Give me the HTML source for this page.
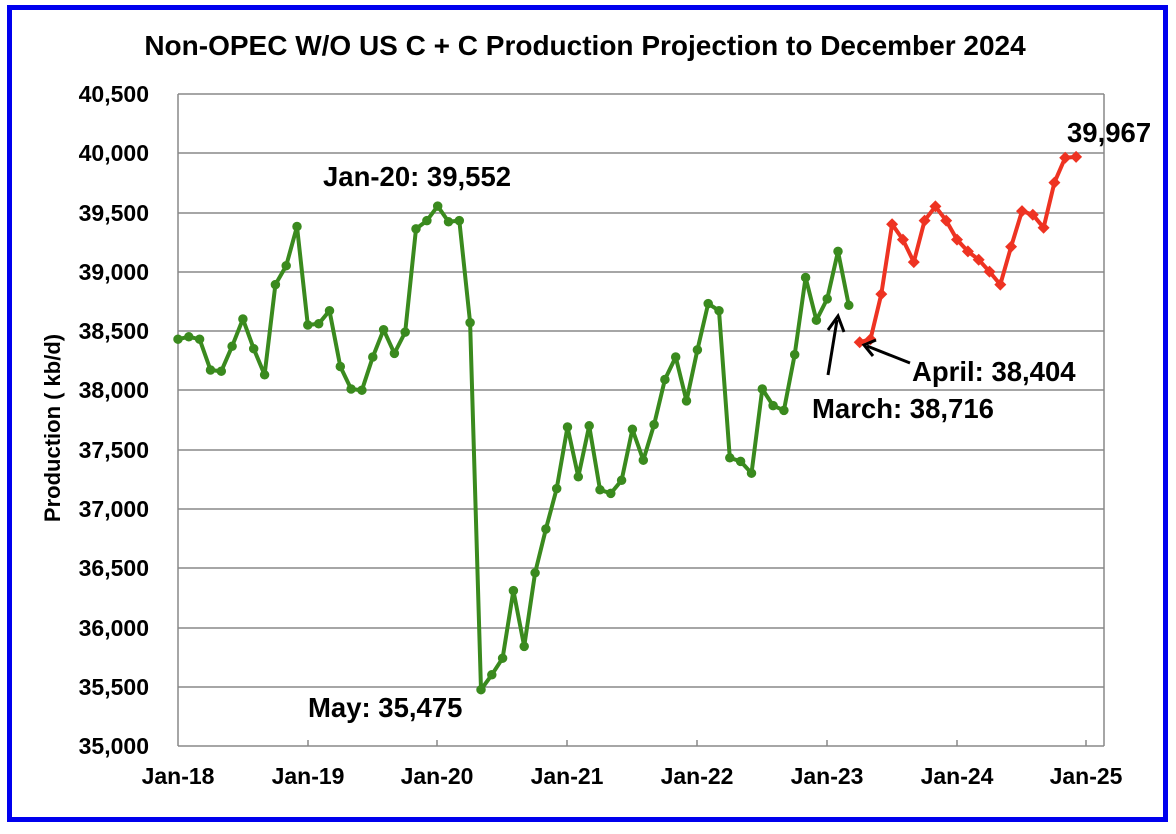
<!DOCTYPE html>
<html><head><meta charset="utf-8"><style>
body{margin:0;background:#fff;}
svg{display:block;font-family:"Liberation Sans",Arial,sans-serif;font-weight:bold;}
</style></head><body>
<svg width="1176" height="834" viewBox="0 0 1176 834">
<rect x="0" y="0" width="1176" height="834" fill="#fff"/>
<rect x="9.5" y="7.5" width="1156" height="812" fill="none" stroke="#0000ee" stroke-width="5"/>
<text x="585" y="55" font-size="28" text-anchor="middle">Non-OPEC W/O US C + C Production Projection to December 2024</text>
<g stroke="#888" stroke-width="1.5">
<line x1="178" y1="94" x2="1104" y2="94"/><line x1="178" y1="153" x2="1104" y2="153"/>
<line x1="178" y1="213" x2="1104" y2="213"/><line x1="178" y1="272" x2="1104" y2="272"/>
<line x1="178" y1="331" x2="1104" y2="331"/><line x1="178" y1="390" x2="1104" y2="390"/>
<line x1="178" y1="450" x2="1104" y2="450"/><line x1="178" y1="509" x2="1104" y2="509"/>
<line x1="178" y1="568" x2="1104" y2="568"/><line x1="178" y1="628" x2="1104" y2="628"/>
<line x1="178" y1="687" x2="1104" y2="687"/><line x1="178" y1="746" x2="1104" y2="746"/>
<line x1="178" y1="94" x2="178" y2="746"/><line x1="1104" y1="94" x2="1104" y2="746"/>
<line x1="308" y1="740" x2="308" y2="746"/><line x1="437" y1="740" x2="437" y2="746"/>
<line x1="567" y1="740" x2="567" y2="746"/><line x1="697" y1="740" x2="697" y2="746"/>
<line x1="827" y1="740" x2="827" y2="746"/><line x1="957" y1="740" x2="957" y2="746"/>
<line x1="1086" y1="740" x2="1086" y2="746"/>
</g>
<g font-size="23" text-anchor="end">
<text x="149" y="102">40,500</text><text x="149" y="161">40,000</text><text x="149" y="221">39,500</text>
<text x="149" y="280">39,000</text><text x="149" y="339">38,500</text><text x="149" y="398">38,000</text>
<text x="149" y="458">37,500</text><text x="149" y="517">37,000</text><text x="149" y="576">36,500</text>
<text x="149" y="636">36,000</text><text x="149" y="695">35,500</text><text x="149" y="754">35,000</text>
</g>
<g font-size="23" text-anchor="middle">
<text x="178" y="784">Jan-18</text><text x="308" y="784">Jan-19</text><text x="437" y="784">Jan-20</text>
<text x="567" y="784">Jan-21</text><text x="697" y="784">Jan-22</text><text x="827" y="784">Jan-23</text>
<text x="957" y="784">Jan-24</text><text x="1086" y="784">Jan-25</text>
</g>
<text transform="translate(60,428) rotate(-90)" font-size="22" text-anchor="middle">Production ( kb/d)</text>
<polyline fill="none" stroke="#3a8a1e" stroke-width="4" stroke-linejoin="round" points="178,339.2 188.8,336.8 199.6,339.2 210.5,370 221.3,371.2 232.1,346.3 242.9,319 253.7,348.7 264.6,374.8 275.4,284.6 286.2,265.7 297,226.5 307.8,325 318.7,323.8 329.5,310.7 340.3,366.5 351.1,389 361.9,390.2 372.8,357 383.6,329.7 394.4,353.4 405.2,332.1 416,228.9 426.9,220.6 437.7,206.1 448.5,221.8 459.3,220.6 470.1,322.6 481,689.7 491.8,674.8 502.6,658.2 513.4,590.6 524.2,646.4 535.1,572.8 545.9,529 556.7,488.6 567.5,427 578.3,476.8 589.2,425.8 600,489.8 610.8,493.4 621.6,480.3 632.4,429.3 643.3,460.2 654.1,424.6 664.9,379.5 675.7,357 686.5,400.9 697.4,349.9 708.2,303.6 719,310.7 729.8,457.8 740.6,461.4 751.5,473.2 762.3,389 773.1,405.6 783.9,410.4 794.7,354.6 805.6,277.5 816.4,320.2 827.2,298.9 838,251.4 848.8,305.3"/>
<path fill="none" stroke="#3a8a1e" stroke-width="9.5" stroke-linecap="round" d="M178,339.2h0M188.8,336.8h0M199.6,339.2h0M210.5,370h0M221.3,371.2h0M232.1,346.3h0M242.9,319h0M253.7,348.7h0M264.6,374.8h0M275.4,284.6h0M286.2,265.7h0M297,226.5h0M307.8,325h0M318.7,323.8h0M329.5,310.7h0M340.3,366.5h0M351.1,389h0M361.9,390.2h0M372.8,357h0M383.6,329.7h0M394.4,353.4h0M405.2,332.1h0M416,228.9h0M426.9,220.6h0M437.7,206.1h0M448.5,221.8h0M459.3,220.6h0M470.1,322.6h0M481,689.7h0M491.8,674.8h0M502.6,658.2h0M513.4,590.6h0M524.2,646.4h0M535.1,572.8h0M545.9,529h0M556.7,488.6h0M567.5,427h0M578.3,476.8h0M589.2,425.8h0M600,489.8h0M610.8,493.4h0M621.6,480.3h0M632.4,429.3h0M643.3,460.2h0M654.1,424.6h0M664.9,379.5h0M675.7,357h0M686.5,400.9h0M697.4,349.9h0M708.2,303.6h0M719,310.7h0M729.8,457.8h0M740.6,461.4h0M751.5,473.2h0M762.3,389h0M773.1,405.6h0M783.9,410.4h0M794.7,354.6h0M805.6,277.5h0M816.4,320.2h0M827.2,298.9h0M838,251.4h0M848.8,305.3h0"/>
<polyline fill="none" stroke="#ee3322" stroke-width="4" stroke-linejoin="round" points="859.7,342.3 870.5,339.2 881.3,294.1 892.1,224.2 902.9,239.6 913.8,262.1 924.6,220.6 935.4,206.4 946.2,220.6 957,239.6 967.9,251.4 978.7,259.7 989.5,271.6 1000.3,284.6 1011.1,246.7 1022,211.1 1032.8,214.7 1043.6,227.7 1054.4,182.6 1065.2,157.7 1076.1,156.9"/>
<g fill="#ee3322">
<path d="M859.7,336.3l6,6l-6,6l-6,-6z"/><path d="M870.5,333.2l6,6l-6,6l-6,-6z"/><path d="M881.3,288.1l6,6l-6,6l-6,-6z"/><path d="M892.1,218.2l6,6l-6,6l-6,-6z"/><path d="M902.9,233.6l6,6l-6,6l-6,-6z"/><path d="M913.8,256.1l6,6l-6,6l-6,-6z"/><path d="M924.6,214.6l6,6l-6,6l-6,-6z"/><path d="M935.4,200.4l6,6l-6,6l-6,-6z"/><path d="M946.2,214.6l6,6l-6,6l-6,-6z"/><path d="M957,233.6l6,6l-6,6l-6,-6z"/><path d="M967.9,245.4l6,6l-6,6l-6,-6z"/><path d="M978.7,253.7l6,6l-6,6l-6,-6z"/><path d="M989.5,265.6l6,6l-6,6l-6,-6z"/><path d="M1000.3,278.6l6,6l-6,6l-6,-6z"/><path d="M1011.1,240.7l6,6l-6,6l-6,-6z"/><path d="M1022,205.1l6,6l-6,6l-6,-6z"/><path d="M1032.8,208.7l6,6l-6,6l-6,-6z"/><path d="M1043.6,221.7l6,6l-6,6l-6,-6z"/><path d="M1054.4,176.6l6,6l-6,6l-6,-6z"/><path d="M1065.2,151.7l6,6l-6,6l-6,-6z"/><path d="M1076.1,150.9l6,6l-6,6l-6,-6z"/>
</g>
<g font-size="27.5">
<text x="323" y="186">Jan-20: 39,552</text>
<text x="308" y="717">May: 35,475</text>
<text x="912" y="381">April: 38,404</text>
<text x="812" y="418">March: 38,716</text>
<text x="1067" y="142">39,967</text>
</g>
<g stroke="#000" stroke-width="3" fill="none">
<line x1="828" y1="375" x2="837" y2="320"/>
<polyline points="828,330 838,316 844,332"/>
<line x1="910" y1="363" x2="867" y2="346"/>
<polyline points="876,340 864,345 873,356"/>
</g>
</svg>
</body></html>
